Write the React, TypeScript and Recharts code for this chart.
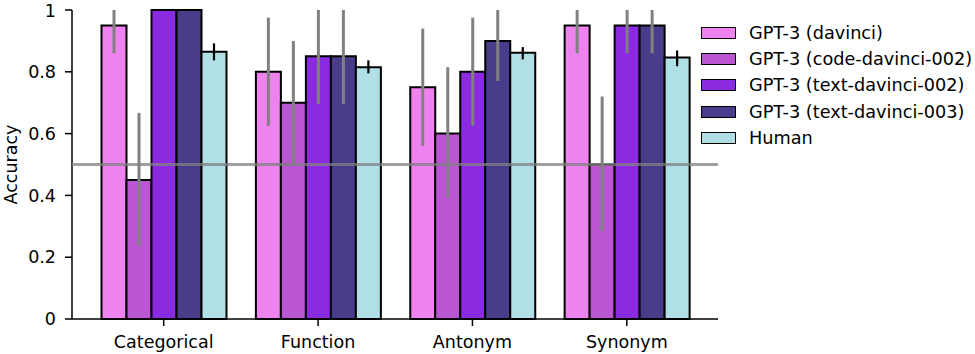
import React from "react";
import {
  BarChart,
  Bar,
  XAxis,
  YAxis,
  ErrorBar,
  ReferenceLine,
} from "recharts";

const categories = ["Categorical", "Function", "Antonym", "Synonym"];

const davinci = [0.95, 0.8, 0.75, 0.95];
const davinciLow = [0.86, 0.625, 0.56, 0.86];
const davinciHigh = [1.0, 0.975, 0.94, 1.0];

const codeDavinci002 = [0.45, 0.7, 0.6, 0.5];
const codeDavinci002Low = [0.235, 0.5, 0.39, 0.285];
const codeDavinci002High = [0.667, 0.9, 0.815, 0.72];

const textDavinci002 = [1.0, 0.85, 0.8, 0.95];
const textDavinci002Low = [1.0, 0.695, 0.625, 0.86];
const textDavinci002High = [1.0, 1.0, 0.975, 1.0];

const textDavinci003 = [1.0, 0.85, 0.9, 0.95];
const textDavinci003Low = [1.0, 0.695, 0.77, 0.86];
const textDavinci003High = [1.0, 1.0, 1.0, 1.0];

const human = [0.865, 0.815, 0.862, 0.846];
const humanLow = [0.837, 0.795, 0.84, 0.818];
const humanHigh = [0.892, 0.837, 0.88, 0.869];

const chanceLevel = 0.5;

const yTicks = [0, 0.2, 0.4, 0.6, 0.8, 1];

const series = [
  { key: "davinci", name: "GPT-3 (davinci)", color: "#EE82EE", vals: davinci, lo: davinciLow, hi: davinciHigh, err: "#808080" },
  { key: "code002", name: "GPT-3 (code-davinci-002)", color: "#BA55D3", vals: codeDavinci002, lo: codeDavinci002Low, hi: codeDavinci002High, err: "#808080" },
  { key: "text002", name: "GPT-3 (text-davinci-002)", color: "#8A2BE2", vals: textDavinci002, lo: textDavinci002Low, hi: textDavinci002High, err: "#808080" },
  { key: "text003", name: "GPT-3 (text-davinci-003)", color: "#483D8B", vals: textDavinci003, lo: textDavinci003Low, hi: textDavinci003High, err: "#808080" },
  { key: "human", name: "Human", color: "#B0E0E6", vals: human, lo: humanLow, hi: humanHigh, err: "#000000" },
];

const data = categories.map((category, i) => {
  const row: Record<string, any> = { category };
  series.forEach((s) => {
    row[s.key] = s.vals[i];
    row[s.key + "Err"] = [s.vals[i] - s.lo[i], s.hi[i] - s.vals[i]];
  });
  return row;
});

const FONT = "'DejaVu Sans', sans-serif";
const FS = 17.5;

const YLabel = (props: any) => {
  const { viewBox } = props;
  const cy = viewBox.y + viewBox.height / 2;
  return (
    <text
      x={11}
      y={cy}
      transform={`rotate(-90, 11, ${cy})`}
      textAnchor="middle"
      dominantBaseline="central"
      fontSize={FS}
      fontFamily={FONT}
      fill="#000"
    >
      Accuracy
    </text>
  );
};

const LegendBox = () => (
  <div
    style={{
      position: "absolute",
      left: 701,
      top: 20,
      fontFamily: FONT,
      fontSize: 17.7,
      color: "#000",
      whiteSpace: "nowrap",
    }}
  >
    {series.map((s) => (
      <div
        key={s.key}
        style={{ display: "flex", alignItems: "center", height: 26.2 }}
      >
        <div
          style={{
            width: 33,
            height: 10,
            background: s.color,
            border: "1.8px solid #000",
            marginRight: 13,
            flex: "none",
          }}
        />
        <span>{s.name}</span>
      </div>
    ))}
  </div>
);

export default function App() {
  return (
    <div
      style={{
        position: "absolute",
        left: 0,
        top: 0,
        width: 975,
        height: 354,
        background: "#fff",
      }}
    >
      <BarChart
        width={975}
        height={354}
        data={data}
        margin={{ top: 10, right: 257, bottom: 0, left: 0 }}
        barCategoryGap={15}
        barGap={0}
      >
        <XAxis
          dataKey="category"
          padding={{ left: 14.5, right: 14 }}
          height={35}
          tickSize={7}
          tickMargin={10}
          interval={0}
          axisLine={{ stroke: "#000", strokeWidth: 1.5 }}
          tickLine={{ stroke: "#000", strokeWidth: 1.5 }}
          tick={{ fontSize: FS, fontFamily: FONT, fill: "#000" }}
        />
        <YAxis
          width={72}
          domain={[0, 1]}
          ticks={yTicks}
          tickSize={7}
          tickMargin={9}
          tickFormatter={(v: number) => (v === 0 || v === 1 ? String(v) : v.toFixed(1))}
          axisLine={{ stroke: "#000", strokeWidth: 1.5 }}
          tickLine={{ stroke: "#000", strokeWidth: 1.5 }}
          tick={{ fontSize: FS, fontFamily: FONT, fill: "#000" }}
          label={<YLabel />}
        />
        {series.map((s) => (
          <Bar
            key={s.key}
            dataKey={s.key}
            name={s.name}
            fill={s.color}
            stroke="#000"
            strokeWidth={2}
            isAnimationActive={false}
          >
            <ErrorBar
              dataKey={s.key + "Err"}
              direction="y"
              width={0}
              stroke={s.err}
              strokeWidth={s.key === "human" ? 2.2 : 3}
              isAnimationActive={false}
            />
          </Bar>
        ))}
      </BarChart>

      {/* chance line sits on top of the bars, so it gets its own overlay chart */}
      <div style={{ position: "absolute", left: 0, top: 0, pointerEvents: "none" }}>
        <BarChart
          width={975}
          height={354}
          data={data}
          margin={{ top: 10, right: 257, bottom: 35, left: 72 }}
        >
          <XAxis dataKey="category" hide />
          <YAxis type="number" domain={[0, 1]} allowDataOverflow hide />
          <Bar dataKey="davinci" fill="none" stroke="none" isAnimationActive={false} />
          <ReferenceLine
            y={chanceLevel}
            ifOverflow="extendDomain"
            stroke="#808080"
            strokeOpacity={0.75}
            strokeWidth={3}
          />
        </BarChart>
      </div>
      <LegendBox />
    </div>
  );
}
